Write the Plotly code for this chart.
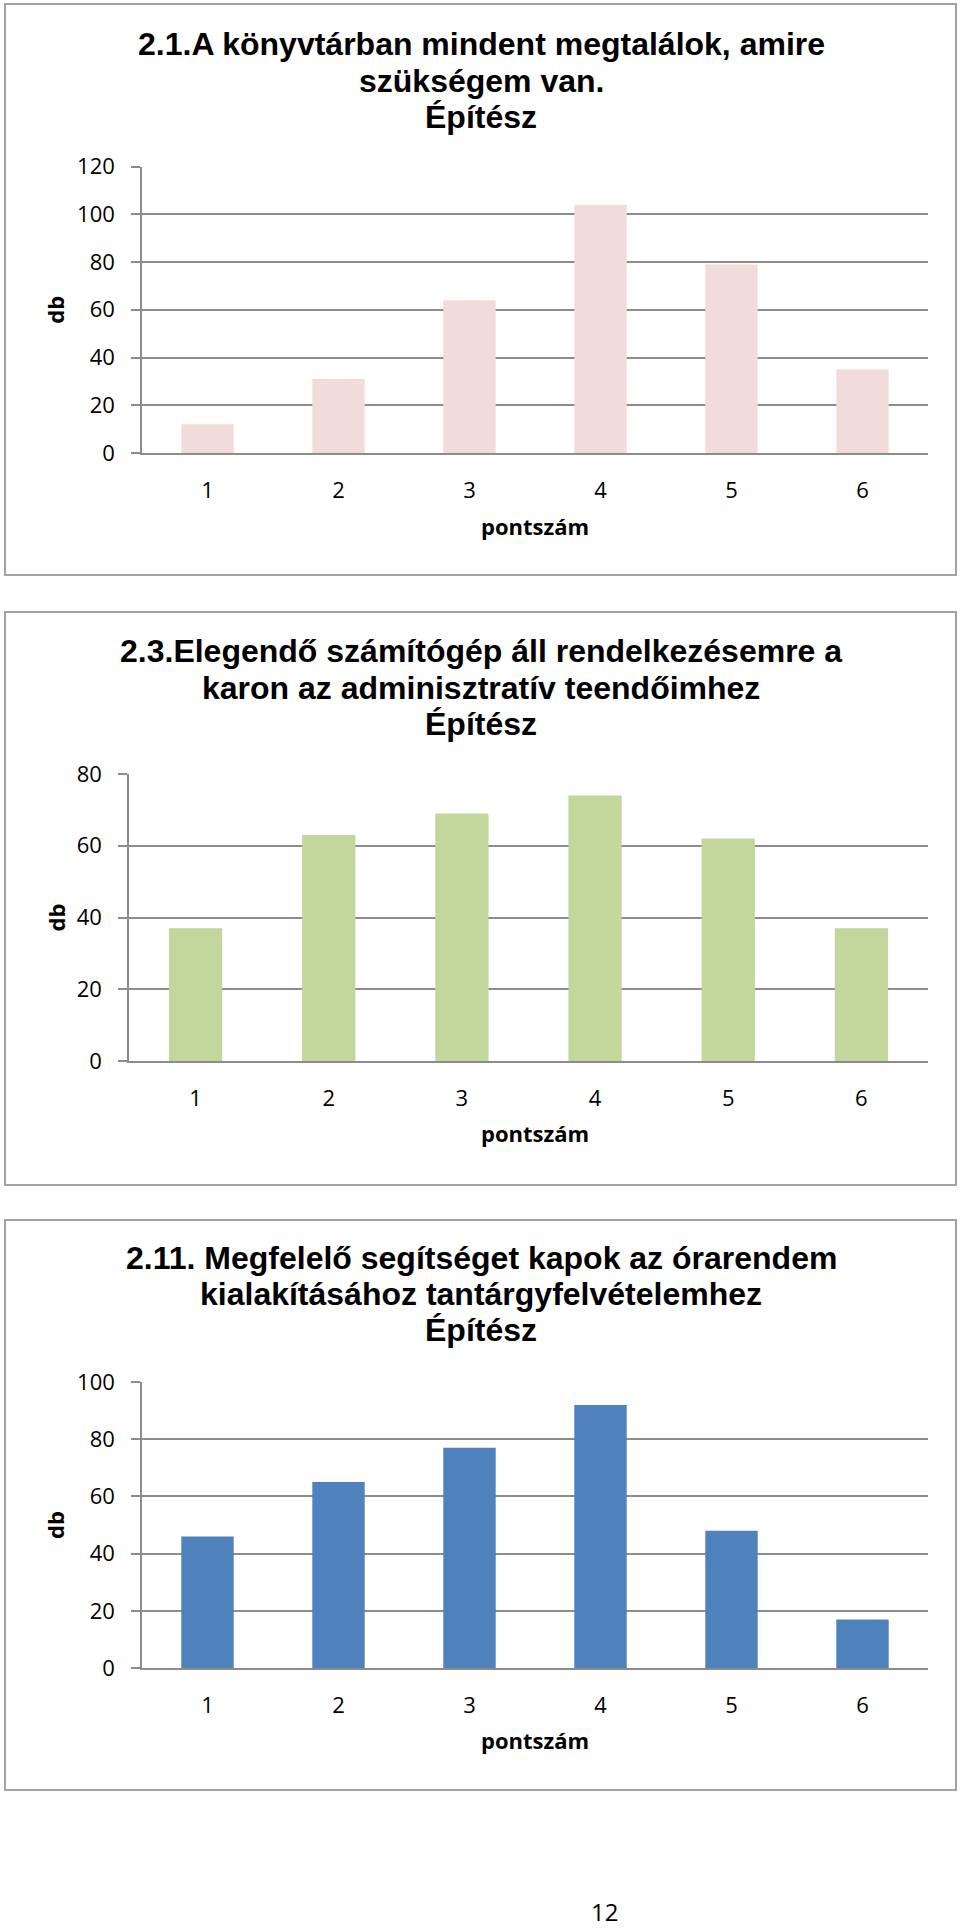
import plotly.graph_objects as go

# ---------------- data ----------------
categories = ["1", "2", "3", "4", "5", "6"]

values_2_1 = [12, 31, 64, 104, 79, 35]
values_2_3 = [37, 63, 69, 74, 62, 37]
values_2_11 = [46, 65, 77, 92, 48, 17]

title_2_1 = ["2.1.A könyvtárban mindent megtalálok, amire", "szükségem van.", "Építész"]
title_2_3 = ["2.3.Elegendő számítógép áll rendelkezésemre a", "karon az adminisztratív teendőimhez", "Építész"]
title_2_11 = ["2.11. Megfelelő segítséget kapok az órarendem", "kialakításához tantárgyfelvételemhez", "Építész"]

x_title = "pontszám"
y_title = "db"
page_number = "12"

# ---------------- layout helpers ----------------
W, H = 960, 1930


def px(x):
    return x / W


def py(y):
    return 1 - y / H


GRID = "#8c8c8c"
BORDER = "#a3a3a3"
TICKFONT = dict(family="Open Sans", size=22, color="black")
LABELFONT = dict(family="Open Sans", size=22, color="black", weight="bold")
TITLEFONT = dict(family="Liberation Sans, Arial", size=32, color="black", weight="bold")

panels = [
    dict(values=values_2_1, color="#F2DCDB", title=title_2_1, ymax=120,
         x0=142, x1=928, ytop=166.5, ybot=453,
         title_y=[44, 81, 117], xlab_y=526, box=(5, 4, 956, 575)),
    dict(values=values_2_3, color="#C3D69B", title=title_2_3, ymax=80,
         x0=129, x1=928, ytop=774, ybot=1061,
         title_y=[651, 688, 724], xlab_y=1133, box=(5, 612, 956, 1185)),
    dict(values=values_2_11, color="#4F81BD", title=title_2_11, ymax=100,
         x0=142, x1=928, ytop=1382, ybot=1668,
         title_y=[1258, 1294, 1330], xlab_y=1740, box=(5, 1220, 956, 1790)),
]

fig = go.Figure()
annotations = []
shapes = []
layout_axes = {}

for i, p in enumerate(panels, start=1):
    sfx = "" if i == 1 else str(i)
    fig.add_trace(go.Bar(
        x=categories, y=p["values"], marker=dict(color=p["color"], line=dict(width=0)),
        xaxis="x" + sfx, yaxis="y" + sfx, showlegend=False, hoverinfo="x+y",
    ))
    layout_axes["xaxis" + sfx] = dict(
        domain=[px(p["x0"]), px(p["x1"])], anchor="y" + sfx, type="category",
        range=[-0.5, 5.5], showgrid=False, zeroline=False, automargin=False,
        showline=True, linecolor=GRID, linewidth=1.5, ticks="",
        tickfont=TICKFONT, ticklabelstandoff=17,
    )
    layout_axes["yaxis" + sfx] = dict(
        domain=[py(p["ybot"]), py(p["ytop"])], anchor="x" + sfx, automargin=False,
        range=[0, p["ymax"]], tickmode="linear", tick0=0, dtick=20,
        showgrid=True, gridcolor=GRID, gridwidth=1.5, zeroline=False,
        showline=True, linecolor=GRID, linewidth=1.5,
        ticks="outside", ticklen=9, tickcolor=GRID, tickwidth=1.5,
        tickfont=TICKFONT, ticklabelstandoff=12,
    )
    # title lines
    for line, yy in zip(p["title"], p["title_y"]):
        annotations.append(dict(text=line, x=px(481), y=py(yy), xref="paper", yref="paper",
                                xanchor="center", yanchor="middle", showarrow=False,
                                font=TITLEFONT))
    # axis titles
    annotations.append(dict(text=x_title, x=px(535), y=py(p["xlab_y"]), xref="paper", yref="paper",
                            xanchor="center", yanchor="middle", showarrow=False, font=LABELFONT))
    annotations.append(dict(text=y_title, x=px(55), y=py((p["ytop"] + p["ybot"]) / 2),
                            xref="paper", yref="paper", xanchor="center", yanchor="middle",
                            showarrow=False, textangle=-90, font=LABELFONT))
    bx0, by0, bx1, by1 = p["box"]
    shapes.append(dict(type="rect", xref="paper", yref="paper",
                       x0=px(bx0), x1=px(bx1), y0=py(by1), y1=py(by0),
                       line=dict(color=BORDER, width=2), fillcolor="rgba(0,0,0,0)", layer="below"))

annotations.append(dict(text=page_number, x=px(604), y=py(1911), xref="paper", yref="paper",
                        xanchor="center", yanchor="middle", showarrow=False,
                        font=dict(family="Open Sans", size=24, color="black")))

fig.update_layout(
    width=W, height=H, margin=dict(l=0, r=0, t=0, b=0, pad=0, autoexpand=False),
    paper_bgcolor="white", plot_bgcolor="white",
    bargap=0.6, annotations=annotations, shapes=shapes,
    **layout_axes,
)

fig.write_html("out.html")
